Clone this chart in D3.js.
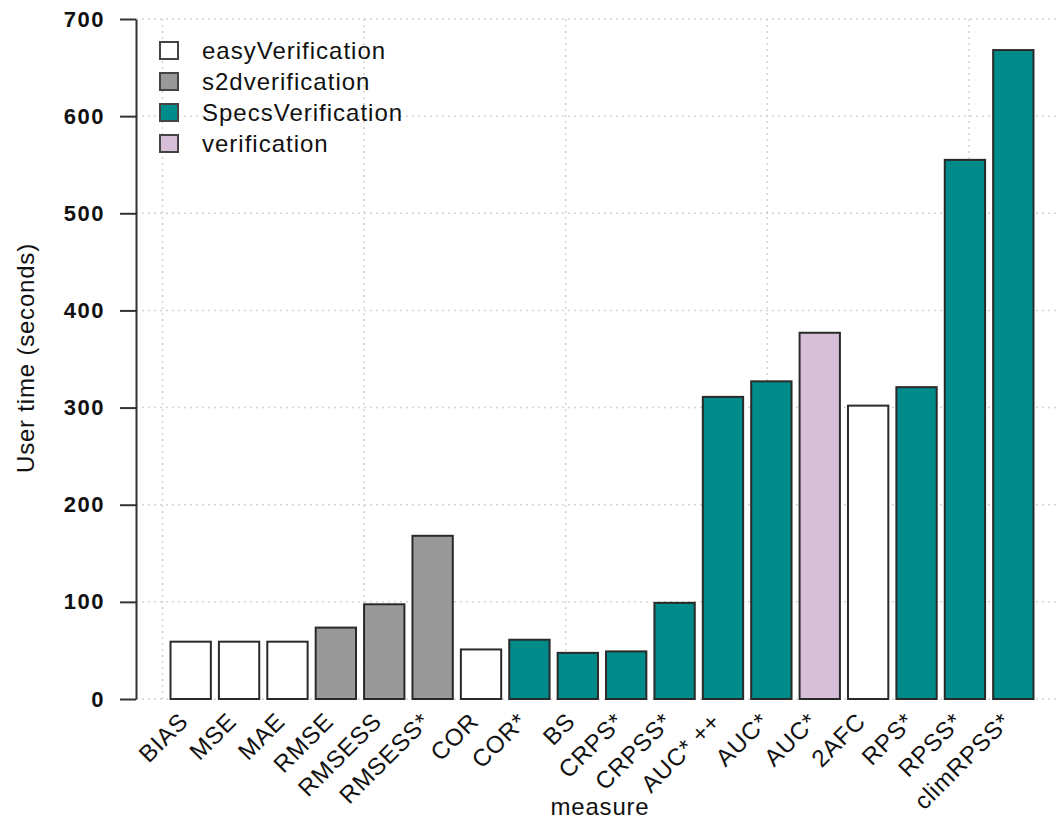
<!DOCTYPE html>
<html><head><meta charset="utf-8">
<script src="https://cdn.jsdelivr.net/npm/d3@7"></script>
<style>body{margin:0;background:#fff}svg{display:block}text{font-family:"Liberation Sans",Arial,sans-serif}</style>
</head><body>
<script>
const measures = ["BIAS","MSE","MAE","RMSE","RMSESS","RMSESS*","COR","COR*","BS","CRPS*","CRPSS*","AUC* ++","AUC*","AUC*","2AFC","RPS*","RPSS*","climRPSS*"];
const packages = ["easyVerification","easyVerification","easyVerification","s2dverification","s2dverification","s2dverification","easyVerification","SpecsVerification","SpecsVerification","SpecsVerification","SpecsVerification","SpecsVerification","SpecsVerification","verification","easyVerification","SpecsVerification","SpecsVerification","SpecsVerification"];
const userTime = [59,59,59,73.5,97.5,168,51,61,47.5,49,99,311,327,377,302,321,555,668];
const legendNames = ["easyVerification","s2dverification","SpecsVerification","verification"];
const legendColors = ["#ffffff","#999999","#008b8b","#d8bfd8"];
const yTicks = [0,100,200,300,400,500,600,700];
const xGrid = [0,5,10,15,20];

const W=1058,H=821;
const svg=d3.select("body").append("svg").attr("width",W).attr("height",H);
const n=measures.length;
const u0=0.2, u1=1.2*n, ext=(u1-u0)*0.04;
const x=d3.scaleLinear().domain([u0-ext,u1+ext]).range([136,1068]);
const y=d3.scaleLinear().domain([0,700]).range([699,19]);
const color=d3.scaleOrdinal().domain(legendNames).range(legendColors);

// grid
const g=svg.append("g");
g.selectAll("line.h").data(yTicks).join("line")
 .attr("x1",136).attr("x2",W).attr("y1",d=>y(d)).attr("y2",d=>y(d))
 .attr("stroke","#d3d3d3").attr("stroke-width",1.5).attr("stroke-dasharray","2,4");
g.selectAll("line.v").data(xGrid).join("line")
 .attr("x1",d=>x(d)).attr("x2",d=>x(d)).attr("y1",19).attr("y2",699)
 .attr("stroke","#d3d3d3").attr("stroke-width",1.5).attr("stroke-dasharray","2,4");

// bars
svg.append("g").selectAll("rect").data(userTime).join("rect")
 .attr("x",(d,i)=>x(u0+1.2*i)).attr("width",(d,i)=>x(u0+1.2*i+1)-x(u0+1.2*i))
 .attr("y",d=>y(d)).attr("height",d=>y(0)-y(d))
 .attr("fill",(d,i)=>color(packages[i])).attr("stroke","#2a2a2a").attr("stroke-width",2);

// y axis
const ya=svg.append("g").attr("transform","translate(136,0)")
 .call(d3.axisLeft(y).tickValues(yTicks).tickSize(16).tickPadding(15).tickSizeOuter(0));
ya.select(".domain").attr("stroke","#333").attr("stroke-width",2);
ya.selectAll(".tick line").attr("stroke","#333").attr("stroke-width",2);
ya.selectAll(".tick text").attr("font-size",22).attr("font-weight","bold").attr("fill","#111")
 .attr("letter-spacing","1.5px").attr("font-family","Liberation Sans, Arial, sans-serif");

// x labels
svg.append("g").selectAll("text").data(measures).join("text")
 .attr("transform",(d,i)=>`translate(${x(u0+1.2*i+0.5)-7},717) rotate(-45)`)
 .attr("text-anchor","end").attr("dy","0.35em").attr("font-size",24).attr("letter-spacing","0.8px")
 .attr("fill","#111").text(d=>d);

// axis titles
svg.append("text").attr("x",600).attr("y",815).attr("text-anchor","middle").attr("font-size",24).attr("letter-spacing","0.8px").attr("fill","#111").text("measure");
svg.append("text").attr("transform","translate(34,358) rotate(-90)").attr("text-anchor","middle").attr("font-size",24).attr("letter-spacing","0.8px").attr("fill","#111").text("User time (seconds)");

// legend
const lg=svg.append("g").selectAll("g").data(legendNames).join("g")
 .attr("transform",(d,i)=>`translate(160,${51+i*31})`);
lg.append("rect").attr("x",0).attr("y",-9).attr("width",18).attr("height",17)
 .attr("fill",d=>color(d)).attr("stroke","#444").attr("stroke-width",2);
lg.append("text").attr("x",42).attr("y",0).attr("dy","0.35em").attr("font-size",24).attr("letter-spacing","1px").attr("fill","#111").text(d=>d);
</script>
</body></html>
